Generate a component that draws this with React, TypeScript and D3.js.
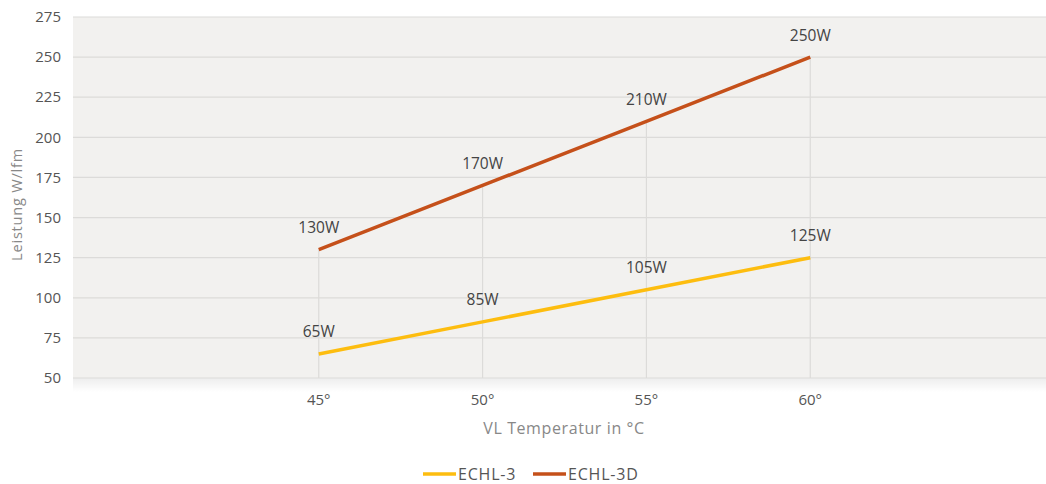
import { useMemo } from "react";
import * as d3 from "d3";

const temperatures = [45, 50, 55, 60];
const echl3 = [65, 85, 105, 125];
const echl3d = [130, 170, 210, 250];
const yTicks = [50, 75, 100, 125, 150, 175, 200, 225, 250, 275];

const series = [
  { name: "ECHL-3", values: echl3, color: "#fdbd0f" },
  { name: "ECHL-3D", values: echl3d, color: "#c5501a" },
];

const font = "'Open Sans', 'Noto Sans', sans-serif";

export default function App() {
  const width = 1046;
  const height = 484;
  const margins = { top: 17, left: 73, bottom: 106 };
  const plotRight = 1056;
  const plotBottom = height - margins.bottom;

  const xScale = useMemo(
    () => d3.scaleLinear().domain([37.5, 67.5]).range([margins.left, plotRight]),
    []
  );
  const yScale = useMemo(
    () => d3.scaleLinear().domain([50, 275]).range([plotBottom, margins.top]),
    []
  );

  const line = d3
    .line<number>()
    .x((_, i) => xScale(temperatures[i]))
    .y((d) => yScale(d));

  // vertical drop lines go up to the highest series value at each temperature
  const maxAt = temperatures.map((_, i) => Math.max(...series.map((s) => s.values[i])));

  return (
    <svg
      width={width}
      height={height}
      style={{ position: "absolute", left: 0, top: 0, display: "block" }}
    >
      <defs>
        <linearGradient id="shadow" x1="0" y1="0" x2="0" y2="1">
          <stop offset="0%" stopColor="#000" stopOpacity={0.07} />
          <stop offset="100%" stopColor="#000" stopOpacity={0} />
        </linearGradient>
      </defs>
      <rect width={width} height={height} fill="#fff" />
      <rect
        x={margins.left}
        y={plotBottom}
        width={plotRight - margins.left}
        height={14}
        fill="url(#shadow)"
      />
      <rect
        x={margins.left}
        y={margins.top}
        width={plotRight - margins.left}
        height={plotBottom - margins.top}
        fill="#f2f1ef"
      />
      {yTicks.map((t) => (
        <g key={t}>
          <line
            x1={margins.left}
            x2={plotRight}
            y1={yScale(t)}
            y2={yScale(t)}
            stroke="#dcdbd9"
            strokeWidth={1.2}
          />
          <text
            x={61}
            y={yScale(t)}
            dy="0.35em"
            textAnchor="end"
            fontFamily={font}
            fontSize={15}
            fill="#555"
          >
            {t}
          </text>
        </g>
      ))}
      {temperatures.map((t, i) => (
        <g key={t}>
          <line
            x1={xScale(t)}
            x2={xScale(t)}
            y1={plotBottom}
            y2={yScale(maxAt[i])}
            stroke="#dcdbd9"
            strokeWidth={1.2}
          />
          <text
            x={xScale(t)}
            y={400}
            dy="0.35em"
            textAnchor="middle"
            fontFamily={font}
            fontSize={15}
            fill="#555"
          >
            {t}°
          </text>
        </g>
      ))}
      {series.map((s) => (
        <g key={s.name}>
          <path d={line(s.values) ?? ""} fill="none" stroke={s.color} strokeWidth={3.5} />
          {s.values.map((v, i) => (
            <text
              key={i}
              x={xScale(temperatures[i])}
              y={yScale(v) - 22}
              dy="0.35em"
              textAnchor="middle"
              fontFamily={font}
              fontSize={15.5}
              fill="#444"
            >
              {v}W
            </text>
          ))}
        </g>
      ))}
      <text
        transform={`translate(17,${(margins.top + plotBottom) / 2 + 7}) rotate(-90)`}
        dy="0.35em"
        textAnchor="middle"
        fontFamily={font}
        fontSize={14.5}
        fill="#888"
        letterSpacing={0.8}
      >
        Leistung W/lfm
      </text>
      <text
        x={564}
        y={428}
        dy="0.35em"
        textAnchor="middle"
        fontFamily={font}
        fontSize={16}
        fill="#888"
        letterSpacing={0.6}
      >
        VL Temperatur in °C
      </text>
      {series.map((s, i) => {
        const lx = [423, 533][i];
        return (
          <g key={s.name}>
            <line x1={lx} x2={lx + 33} y1={474} y2={474} stroke={s.color} strokeWidth={3.5} />
            <text
              x={lx + 35}
              y={474}
              dy="0.35em"
              fontFamily={font}
              fontSize={16}
              fill="#555"
              letterSpacing={0.8}
            >
              {s.name}
            </text>
          </g>
        );
      })}
    </svg>
  );
}
